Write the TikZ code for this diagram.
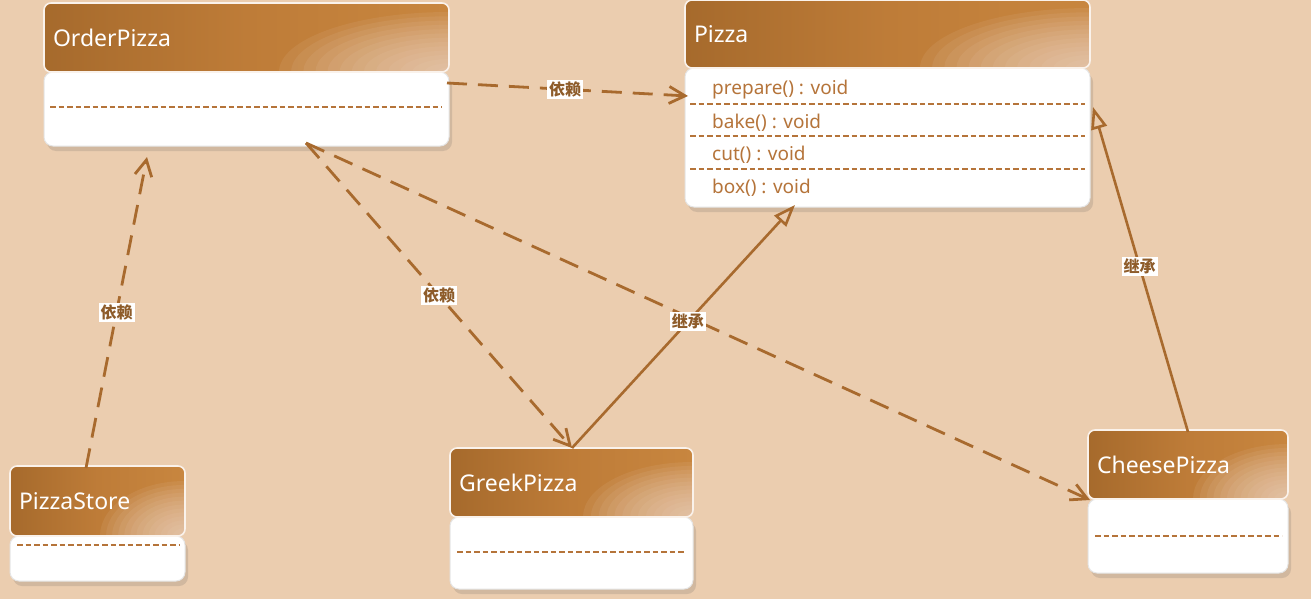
\documentclass[tikz,border=0pt]{standalone}
\usepackage{fontspec}
\setmainfont{Noto Sans}
\newfontfamily\cjk{Noto Sans CJK SC}
\usetikzlibrary{arrows.meta,shadows,calc}
\definecolor{bg}{HTML}{EBCDAF}
\definecolor{brn}{HTML}{A86A2E}
\definecolor{hdA}{HTML}{A66A2C}
\definecolor{hdM}{HTML}{BE7C38}
\definecolor{hdB}{HTML}{C8863F}
\definecolor{hdC}{HTML}{F2DCCE}
\definecolor{txt}{HTML}{B5743A}
\definecolor{lbl}{HTML}{8E5C2A}
\tikzset{
  hdr/.style 2 args={anchor=north west, rounded corners=7pt, draw=white!75!bg, line width=1.6pt,
    left color=hdA, right color=hdB, middle color=hdM, text=white, font=\fontsize{23}{27}\selectfont,
    inner xsep=9pt, inner ysep=0pt, align=left, outer sep=0pt,
    path picture={\foreach \k in {1,...,14}{\fill[hdC, opacity=0.085] (path picture bounding box.south east) ellipse [x radius={#1*\k/14}, y radius={#2*\k/14}];}}},
  bodybox/.style={anchor=north west, rounded corners=9pt, fill=white, draw=black!10, line width=1pt,
    inner sep=0pt, outer sep=0pt,
    drop shadow={shadow xshift=3pt, shadow yshift=-5pt, opacity=0.16, fill=black!70}},
  sep/.style={draw=txt, line width=2.2pt, dash pattern=on 5.5pt off 3pt},
  meth/.style={anchor=west, text=txt, font=\fontsize{19}{23}\selectfont, inner sep=0pt},
  dep/.style={draw=brn, line width=2.8pt, dash pattern=on 20pt off 11pt,
    -{Straight Barb[length=16pt, width=17pt, line width=2.8pt]}},
  gen/.style={draw=brn, line width=2.6pt, -{Triangle[open, length=22pt, width=16pt, line width=2.6pt]}},
  lab/.style={fill=white, text=lbl, font=\cjk\bfseries\fontsize{16}{18}\selectfont, inner sep=2pt}
}
\begin{document}
\begin{tikzpicture}[x=1pt, y=-1pt]
\fill[bg] (0,0) rectangle (1311,599);
\useasboundingbox (0,0) rectangle (1311,599);

% OrderPizza
\node[bodybox, minimum width=405pt, minimum height=74pt] (op-b) at (44,72) {};
\node[hdr={170pt}{60pt}, text width=387pt, minimum height=69pt] (op-h) at (44,3) {OrderPizza};
\draw[sep] ($(op-b.west)+(6,-2)$) -- ($(op-b.east)+(-7,-2)$);

% Pizza
\node[bodybox, minimum width=405pt, minimum height=139pt] (pz-b) at (685,68) {};
\node[hdr={170pt}{60pt}, text width=387pt, minimum height=68pt] (pz-h) at (685,0) {Pizza};
\node[meth] (m1) at (712,90) {prepare() : void};
\node[meth] (m2) at (712,123) {bake() : void};
\node[meth] (m3) at (712,155) {cut() : void};
\node[meth] (m4) at (712,188) {box() : void};
\draw[sep] ($(pz-b.north west)+(5,36)$) -- ($(pz-b.north east)+(-5,36)$);
\draw[sep] ($(pz-b.north west)+(5,68)$) -- ($(pz-b.north east)+(-5,68)$);
\draw[sep] ($(pz-b.north west)+(5,101)$) -- ($(pz-b.north east)+(-5,101)$);

% PizzaStore
\node[bodybox, minimum width=175pt, minimum height=45pt] (ps-b) at (10,536) {};
\node[hdr={85pt}{55pt}, text width=157pt, minimum height=70pt] (ps-h) at (10,466) {PizzaStore};
\draw[sep] ($(ps-b.north west)+(7,9)$) -- ($(ps-b.north east)+(-6,9)$);

% GreekPizza
\node[bodybox, minimum width=243pt, minimum height=72pt] (gk-b) at (450,517) {};
\node[hdr={110pt}{55pt}, text width=225pt, minimum height=69pt] (gk-h) at (450,448) {GreekPizza};
\draw[sep] ($(gk-b.west)+(7,-1)$) -- ($(gk-b.east)+(-8,-1)$);

% CheesePizza
\node[bodybox, minimum width=200pt, minimum height=74pt] (ch-b) at (1088,499) {};
\node[hdr={95pt}{55pt}, text width=182pt, minimum height=69pt] (ch-h) at (1088,430) {CheesePizza};
\draw[sep] ($(ch-b.west)+(7,0)$) -- ($(ch-b.east)+(-6,0)$);

% connectors
\draw[dep] ($(op-b.north east)+(-2,11)$) -- node[lab, pos=0.49] (l1) {依赖} ($(pz-b.north west)+(3,28)$);
\draw[dep] ($(ps-h.north west)+(76,2)$) -- node[lab, pos=0.5] (l2) {依赖} ($(op-b.south west)+(103,11)$);
\draw[dep] ($(op-b.south west)+(262,-3)$) -- node[lab, pos=0.5] (l3) {依赖} ($(gk-h.north west)+(122,0)$);
\draw[dep] ($(op-b.south west)+(262,-3)$) -- ($(ch-b.north west)+(2,1)$);
\draw[gen] ($(gk-h.north west)+(122,0)$) -- node[lab, pos=0.52] (l4) {继承} ($(pz-b.south west)+(110,-2)$);
\draw[gen] ($(ch-h.north west)+(100,2)$) -- node[lab, pos=0.51] (l5) {继承} ($(pz-b.north east)+(3,39)$);
\end{tikzpicture}
\end{document}
